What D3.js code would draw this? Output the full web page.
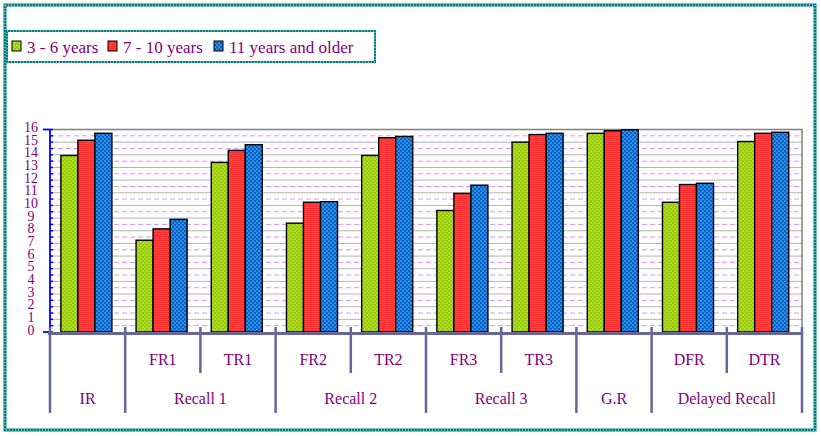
<!DOCTYPE html>
<html>
<head>
<meta charset="utf-8">
<script src="https://cdn.jsdelivr.net/npm/d3@7"></script>
<style>
  body { margin: 0; background: #fff; }
  svg { display: block; font-family: "Liberation Serif", "DejaVu Serif", serif; }
</style>
</head>
<body>
<div id="chart"></div>
<script>
// data
const categories = ["IR", "FR1", "TR1", "FR2", "TR2", "FR3", "TR3", "G.R", "DFR", "DTR"];
const subLabels = ["", "FR1", "TR1", "FR2", "TR2", "FR3", "TR3", "", "DFR", "DTR"];
const groupNames = ["IR", "Recall 1", "Recall 2", "Recall 3", "G.R", "Delayed Recall"];
const groupFirst = [0, 1, 3, 5, 7, 8];
const groupLast = [0, 2, 4, 6, 7, 9];
const seriesNames = ["3 - 6 years", "7 - 10 years", "11 years and older"];
const young = [13.95, 7.25, 13.4, 8.6, 13.95, 9.6, 15.0, 15.7, 10.25, 15.05];
const middle = [15.15, 8.15, 14.35, 10.25, 15.35, 10.95, 15.6, 15.9, 11.65, 15.7];
const older = [15.7, 8.9, 14.8, 10.3, 15.45, 11.6, 15.7, 15.98, 11.75, 15.78];
const yTicks = d3.range(0, 17);

const W = 821, H = 436;
const plotLeft = 50, plotRight = 802, plotTop = 129.5, zero = 332;
const colors = ["#99cc00", "#ff0000", "#0066cc"];

const svg = d3.select("#chart").append("svg")
    .attr("width", W).attr("height", H);

// white dot overlays (transparent tiles) drawn on top of solid fills
const defs = svg.append("defs");
function dotPattern(id, size, dots) {
    const p = defs.append("pattern")
        .attr("id", id).attr("patternUnits", "userSpaceOnUse")
        .attr("width", size).attr("height", size);
    dots.forEach(d => p.append("circle")
        .attr("cx", d[0]).attr("cy", d[1]).attr("r", 0.6)
        .attr("fill", "#fff"));
}
dotPattern("dSparse", 4, [[1, 1], [3, 3]]);
dotPattern("dDense", 4, [[1, 1], [3, 1], [1, 3], [3, 3]]);
const overlays = ["url(#dSparse)", "url(#dDense)", "url(#dSparse)"];

function patternRect(sel, x, y, w, h, k, sw) {
    sel.append("rect").attr("x", x).attr("y", y).attr("width", w).attr("height", h)
        .attr("fill", colors[k]);
    sel.append("rect").attr("x", x).attr("y", y).attr("width", w).attr("height", h)
        .attr("fill", overlays[k]).attr("stroke", "#000").attr("stroke-width", sw);
}

// dotted frames
function dottedRect(x, y, w, h, sw) {
    svg.append("rect").attr("x", x).attr("y", y).attr("width", w).attr("height", h)
        .attr("fill", "none").attr("stroke", "#008080").attr("stroke-width", sw);
    svg.append("rect").attr("x", x).attr("y", y).attr("width", w).attr("height", h)
        .attr("fill", "none").attr("stroke", "#fff").attr("stroke-width", 0.8)
        .attr("stroke-dasharray", "1,2");
}
dottedRect(5, 5, 810, 425, 3);

const x = d3.scaleBand().domain(categories).range([plotLeft, plotRight]);
const xs = d3.scaleBand().domain(d3.range(3)).range([0, x.bandwidth()])
    .paddingOuter(0.71).align(0.45);
const y = d3.scaleLinear().domain([0, 16]).range([zero, plotTop]);

// gridlines
const g = svg.append("g");
g.selectAll("line.major").data(yTicks.slice(1, -1)).join("line")
    .attr("x1", plotLeft).attr("x2", plotRight)
    .attr("y1", d => y(d)).attr("y2", d => y(d))
    .attr("stroke", "#b4b4b4").attr("stroke-width", 1);
g.selectAll("line.minor").data(yTicks.slice(0, -1).map(d => d + 0.5)).join("line")
    .attr("x1", plotLeft).attr("x2", plotRight)
    .attr("y1", d => y(d)).attr("y2", d => y(d))
    .attr("stroke", "#cc99ff").attr("stroke-width", 1).attr("stroke-dasharray", "5,3");

// plot frame top/right
svg.append("path")
    .attr("d", `M${plotLeft},${y(16)}H${plotRight}V${zero}`)
    .attr("fill", "none").attr("stroke", "#808080").attr("stroke-width", 1.5);

// bars
const series = [young, middle, older];
const barsG = svg.append("g");
categories.forEach((c, i) => {
    series.forEach((s, k) => {
        patternRect(barsG, x(c) + xs(k), y(s[i]), xs.bandwidth(), zero - y(s[i]), k, 1.4);
    });
});

// y axis
svg.append("line").attr("x1", plotLeft).attr("x2", plotLeft).attr("y1", y(16)).attr("y2", zero + 1)
    .attr("stroke", "#0000ff").attr("stroke-width", 1.8);
svg.selectAll("line.ytick").data(d3.range(0, 16.5, 0.5)).join("line")
    .attr("x1", plotLeft).attr("x2", plotLeft + 3)
    .attr("y1", d => y(d)).attr("y2", d => y(d))
    .attr("stroke", "#0000ff").attr("stroke-width", 1.5);
svg.selectAll("line.yend").data([0, 16]).join("line")
    .attr("x1", plotLeft - 7).attr("x2", plotLeft)
    .attr("y1", d => y(d)).attr("y2", d => y(d))
    .attr("stroke", "#0000ff").attr("stroke-width", 1.8);
svg.selectAll("text.ylab").data(yTicks).join("text")
    .attr("x", 31).attr("y", d => y(d) - 2)
    .attr("dominant-baseline", "central").attr("text-anchor", "middle")
    .attr("font-size", 14).attr("fill", "#800080")
    .text(d => d);

// x axis line and separators
const axisColor = "#666699";
svg.append("line").attr("x1", plotLeft - 2).attr("x2", plotRight + 1)
    .attr("y1", zero + 1.5).attr("y2", zero + 1.5)
    .attr("stroke", axisColor).attr("stroke-width", 3);

const longEdges = [];
groupFirst.forEach((f, i) => {
    longEdges.push(x(categories[f]));
    if (i === groupFirst.length - 1) longEdges.push(x(categories[groupLast[i]]) + x.bandwidth());
});
const shortEdges = [];
groupFirst.forEach((f, i) => {
    for (let j = f + 1; j <= groupLast[i]; j++) shortEdges.push(x(categories[j]));
});
svg.selectAll("line.long").data(longEdges).join("line")
    .attr("x1", d => d).attr("x2", d => d).attr("y1", 327).attr("y2", 413)
    .attr("stroke", axisColor).attr("stroke-width", 2.5);
svg.selectAll("line.short").data(shortEdges).join("line")
    .attr("x1", d => d).attr("x2", d => d).attr("y1", 327).attr("y2", 373)
    .attr("stroke", axisColor).attr("stroke-width", 2.5);

// category labels
svg.selectAll("text.sub").data(categories).join("text")
    .attr("x", d => x(d) + x.bandwidth() / 2).attr("y", 365)
    .attr("text-anchor", "middle").attr("font-size", 16).attr("fill", "#800080")
    .text((d, i) => subLabels[i]);
svg.selectAll("text.grp").data(groupNames).join("text")
    .attr("x", (d, i) => (x(categories[groupFirst[i]]) + x(categories[groupLast[i]]) + x.bandwidth()) / 2)
    .attr("y", 404)
    .attr("text-anchor", "middle").attr("font-size", 16).attr("fill", "#800080")
    .text(d => d);

// legend
dottedRect(7, 31, 368, 31, 2);
const legX = [12, 108, 214];
seriesNames.forEach((n, k) => {
    patternRect(svg, legX[k], 41, 9, 10, k, 1);
    svg.append("text").attr("x", legX[k] + 15).attr("y", 52.5)
        .attr("font-size", 17).attr("fill", "#800080").text(n);
});
</script>
</body>
</html>
